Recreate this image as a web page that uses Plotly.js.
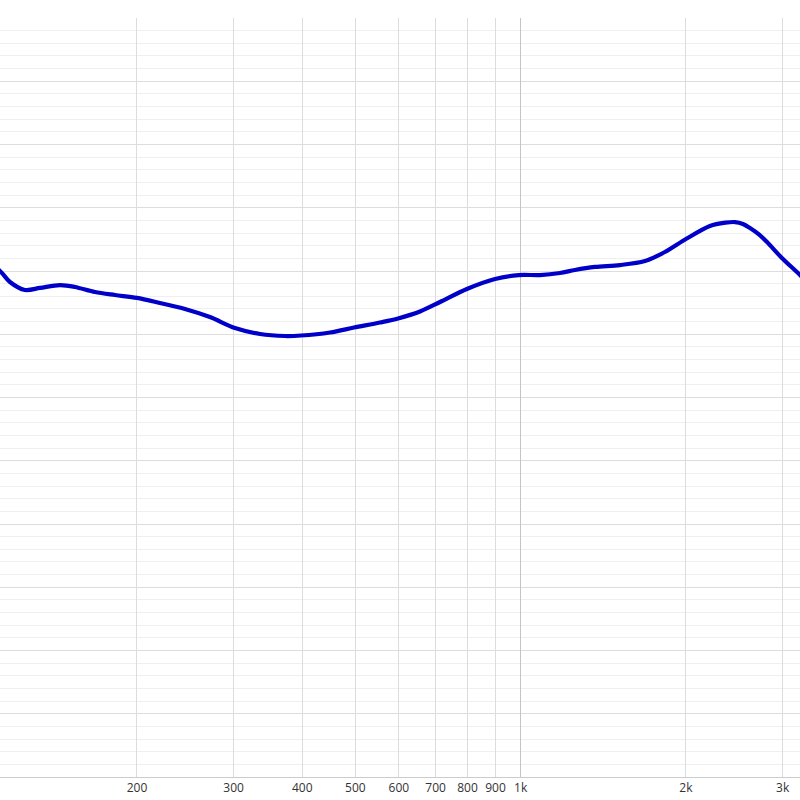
<!DOCTYPE html>
<html>
<head>
<meta charset="utf-8">
<script src="https://cdn.plot.ly/plotly-3.0.1.min.js"></script>
<style>html,body{margin:0;padding:0;background:#fff;}#chart{width:800px;height:800px;}</style>
</head>
<body>
<div id="chart"></div>
<script>
// Frequency (Hz) and level (dB, relative grid units)
const freqHz = [106, 112.6, 117.4, 125.0, 133.2, 144.8, 154.2, 167.7, 182.4, 200, 220.2, 244.6, 271.6, 301.7, 335.1, 372.1, 398, 449.5, 497, 554, 598, 655.5, 713, 798, 898, 992, 1084, 1179, 1255, 1366, 1516, 1684, 1831, 2000, 2212, 2360, 2457, 2540, 2616, 2716, 2810, 2991, 3227, 3400];
const levelDb = [40.7, 40.0, 39.13, 38.50, 38.66, 38.89, 38.74, 38.34, 38.10, 37.87, 37.47, 37.00, 36.36, 35.49, 35.02, 34.86, 34.90, 35.14, 35.53, 35.93, 36.25, 36.80, 37.55, 38.58, 39.37, 39.68, 39.68, 39.84, 40.08, 40.32, 40.47, 40.79, 41.50, 42.53, 43.56, 43.82, 43.87, 43.72, 43.40, 42.90, 42.29, 41.03, 39.68, 38.65];
const xTickVals = [200, 300, 400, 500, 600, 700, 800, 900, 1000, 2000, 3000];
const xTickText = ['200', '300', '400', '500', '600', '700', '800', '900', '1k', '2k', '3k'];
const emphasisTickVals = [1000];

const xRange = [Math.log10(112.6), Math.log10(3227)];
const yRange = [0, 60];

const trace = {
  x: freqHz, y: levelDb, type: 'scatter', mode: 'lines',
  line: {color: 'rgb(0,0,200)', width: 4.2, shape: 'spline', smoothing: 0.9},
  hoverinfo: 'skip', showlegend: false
};

const layout = {
  width: 800, height: 800,
  margin: {l: 0, r: 0, t: 18, b: 23, pad: 0},
  paper_bgcolor: '#ffffff', plot_bgcolor: '#ffffff',
  font: {family: '"Open Sans", "Noto Sans", sans-serif', size: 12, color: '#333'},
  xaxis: {
    type: 'log', range: xRange,
    tickvals: xTickVals, ticktext: xTickText,
    showgrid: true, gridcolor: '#dcdcdc', gridwidth: 1,
    zeroline: false, showline: true, linecolor: '#cccccc', linewidth: 1,
    ticks: '', tickfont: {size: 12, color: '#333'}, fixedrange: true
  },
  xaxis2: {
    type: 'log', range: xRange, overlaying: 'x', anchor: 'y',
    tickvals: emphasisTickVals, showticklabels: false,
    showgrid: true, gridcolor: '#c4c4c4', gridwidth: 1.2,
    zeroline: false, showline: false, ticks: ''
  },
  yaxis: {
    range: yRange, dtick: 5, showticklabels: false, ticks: '',
    showgrid: true, gridcolor: '#dddddd', gridwidth: 1,
    minor: {dtick: 1, showgrid: true, gridcolor: '#efefef', gridwidth: 1},
    zeroline: false, showline: false, fixedrange: true
  }
};

// invisible trace to activate xaxis2
const dummy = {x: [1000], y: [null], xaxis: 'x2', yaxis: 'y', type: 'scatter', mode: 'lines', showlegend: false, hoverinfo: 'skip'};

Plotly.newPlot('chart', [dummy, trace], layout, {displayModeBar: false, staticPlot: true});
</script>
</body>
</html>
